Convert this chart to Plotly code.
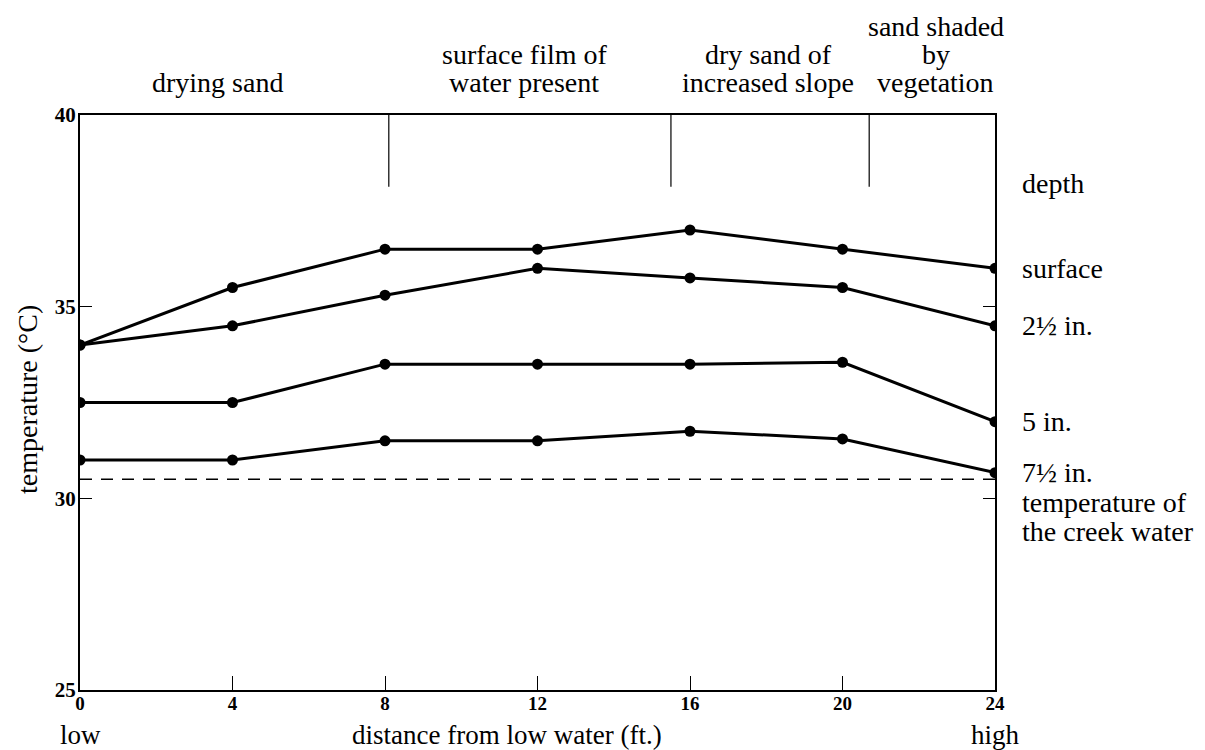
import plotly.graph_objects as go

# ---- data ----
distance_ft = [0, 4, 8, 12, 16, 20, 24]
depth_labels = ["surface", "2½ in.", "5 in.", "7½ in."]
temp_surface = [34.0, 35.5, 36.5, 36.5, 37.0, 36.5, 36.0]
temp_2_5in = [34.0, 34.5, 35.3, 36.0, 35.75, 35.5, 34.5]
temp_5in = [32.5, 32.5, 33.5, 33.5, 33.5, 33.55, 32.0]
temp_7_5in = [31.0, 31.0, 31.5, 31.5, 31.75, 31.55, 30.67]
creek_water_temp = 30.5
zone_boundaries_ft = [8.1, 15.5, 20.7]
zone_labels = [
    (3.6, ["drying sand"]),
    (11.65, ["surface film of", "water present"]),
    (18.05, ["dry sand of", "increased slope"]),
    (22.45, ["sand shaded", "by", "vegetation"]),
]
x_ticks = [0, 4, 8, 12, 16, 20, 24]
y_ticks = [25, 30, 35, 40]

series = [temp_surface, temp_2_5in, temp_5in, temp_7_5in]

FONT = '"Liberation Serif", "Times New Roman", serif'
TXT = 28

fig = go.Figure()

for name, vals in zip(depth_labels, series):
    fig.add_trace(go.Scatter(
        x=distance_ft, y=vals, mode="lines+markers", name=name,
        line=dict(color="black", width=3),
        marker=dict(color="black", size=11),
        showlegend=False,
    ))

# creek water temperature (dashed)
fig.add_trace(go.Scatter(
    x=[distance_ft[0], distance_ft[-1]], y=[creek_water_temp, creek_water_temp],
    mode="lines", line=dict(color="black", width=1.5, dash="12px,9px"),
    showlegend=False,
))

# zone boundary lines hanging from the top axis
for b in zone_boundaries_ft:
    fig.add_trace(go.Scatter(
        x=[b, b], y=[40, 38.13], mode="lines",
        line=dict(color="black", width=1.2), showlegend=False,
    ))

annotations = []
line_y_px = [83, 55, 27]  # rows from bottom line upward (pixels from top)


def py_to_paper(py):
    return (690 - py) / 575.0


def px_to_paper(px):
    return (px - 80) / 915.0


for xc, lines in zone_labels:
    n = len(lines)
    for i, t in enumerate(lines):
        row = n - 1 - i
        annotations.append(dict(
            x=xc, xref="x", y=py_to_paper(line_y_px[row]), yref="paper",
            text=t, showarrow=False, xanchor="center", yanchor="middle",
            font=dict(family=FONT, size=TXT, color="black"),
        ))

# right-hand depth labels
annotations.append(dict(
    x=px_to_paper(1020), xref="paper", y=py_to_paper(183), yref="paper",
    text="depth", showarrow=False, xanchor="left", yanchor="middle",
    font=dict(family=FONT, size=TXT, color="black"),
))
for name, vals in zip(depth_labels, series):
    annotations.append(dict(
        x=px_to_paper(1020), xref="paper", y=vals[-1], yref="y",
        text=name, showarrow=False, xanchor="left", yanchor="middle",
        font=dict(family=FONT, size=TXT, color="black"),
    ))
for t, py in [("temperature of", 503), ("the creek water", 531)]:
    annotations.append(dict(
        x=px_to_paper(1020), xref="paper", y=py_to_paper(py), yref="paper",
        text=t, showarrow=False, xanchor="left", yanchor="middle",
        font=dict(family=FONT, size=TXT, color="black"),
    ))

# axis titles
annotations.append(dict(
    x=px_to_paper(27), xref="paper", y=py_to_paper(400), yref="paper",
    text="temperature (°C)", textangle=-90, showarrow=False,
    xanchor="center", yanchor="middle",
    font=dict(family=FONT, size=TXT, color="black"),
))
BOTTOM = py_to_paper(750)
for t, xv in [("distance from low water (ft.)", 11.2), ("low", 0), ("high", 24)]:
    annotations.append(dict(
        x=xv, xref="x", y=BOTTOM, yref="paper",
        text=t, showarrow=False, xanchor="center", yanchor="bottom",
        borderpad=0, yshift=-1,
        font=dict(family=FONT, size=27, color="black"),
    ))

fig.update_layout(
    width=1205, height=750,
    margin=dict(l=80, r=210, t=115, b=60),
    paper_bgcolor="white", plot_bgcolor="white",
    annotations=annotations,
    xaxis=dict(
        range=[0, 24], tickvals=x_ticks, ticktext=[str(v) for v in x_ticks],
        showgrid=False, zeroline=False, showline=True, linecolor="black",
        linewidth=2, mirror=True, ticks="inside", ticklen=14, tickwidth=1.2,
        tickcolor="black", ticklabelstandoff=-5,
        tickfont=dict(family=FONT, size=19, color="black", weight="bold"),
    ),
    yaxis=dict(
        range=[25, 40], tickvals=y_ticks, ticktext=[str(v) for v in y_ticks],
        showgrid=False, zeroline=False, showline=True, linecolor="black",
        linewidth=2, mirror="ticks", ticks="inside", ticklen=12, tickwidth=1.2,
        tickcolor="black", ticklabelstandoff=-2,
        tickfont=dict(family=FONT, size=21, color="black", weight="bold"),
    ),
)

fig.write_html("out.html")
